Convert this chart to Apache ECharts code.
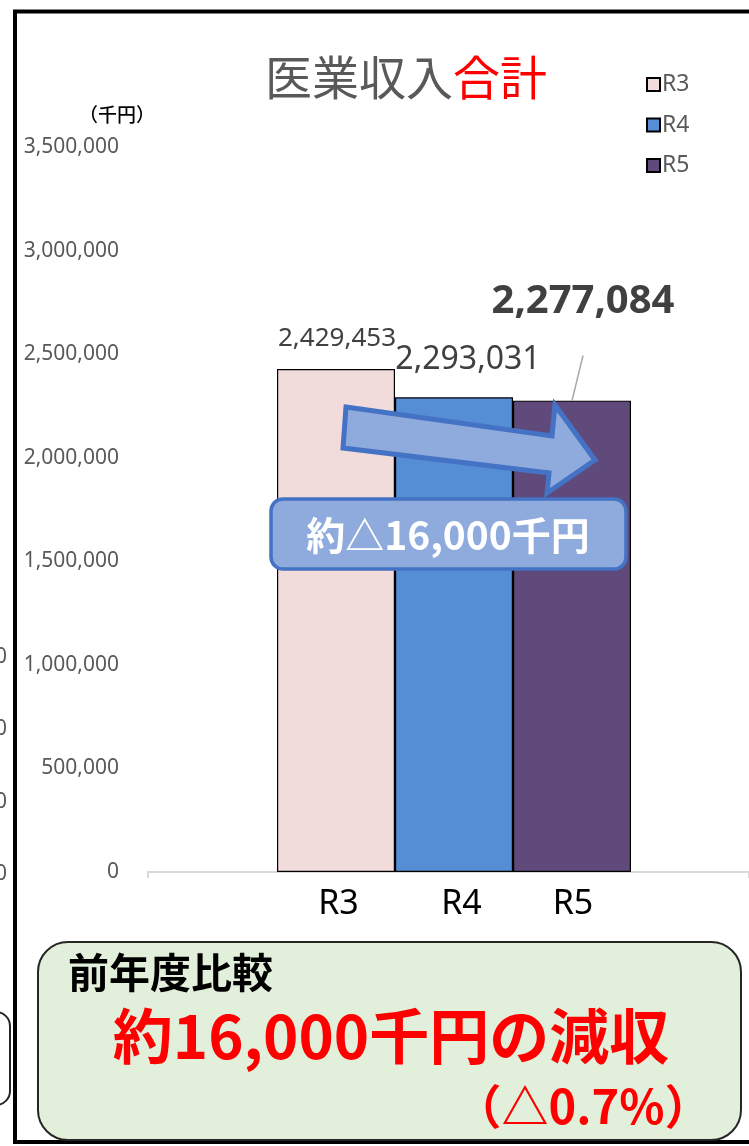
<!DOCTYPE html>
<html><head><meta charset="utf-8">
<script src="https://cdn.jsdelivr.net/npm/echarts@6/dist/echarts.min.js"></script>
<style>html,body{margin:0;padding:0;background:#fff;}#c{width:749px;height:1146px;}</style>
</head><body><div id="c"></div>
<script>
// ---- data ----
const categories = ['R3', 'R4', 'R5'];
const seriesNames = ['R3', 'R4', 'R5'];
const values = [2429453, 2293031, 2277084];
const yMin = 0, yMax = 3500000, yInterval = 500000;
const titleMain = '医業収入', titleRed = '合計';
const unitLabel = '（千円）';
const calloutText = '約△16,000千円';
const boxHead = '前年度比較';
const boxMain = '約16,000千円の減収';
const boxPct = '（△0.7%）';
const neighbourTicks = ['0', '0', '0', '0'];

// ---- styles ----
const colors = ['#F2DCDB', '#558ED5', '#604A7B'];
const labelStyles = [
  { fontSize: 26, fontWeight: 'normal', distance: 31, offset: [1, 0] },
  { fontSize: 32, fontWeight: 'normal', distance: 37, offset: [14, 0] },
  { fontSize: 40, fontWeight: 'bold', distance: 99, offset: [11, 0] }
];
const latin = 'Noto Sans';
const cjk = '"Noto Sans CJK JP"';
const fmt = v => v.toLocaleString('en-US');

const chart = echarts.init(document.getElementById('c'), null, { renderer: 'canvas' });

const gridTop = 147.5, gridHeight = 724.5;

const series = seriesNames.map((name, i) => ({
  name,
  type: 'bar',
  xAxisIndex: 0, yAxisIndex: 0,
  barGap: '-100%',
  barCategoryGap: 0,
  data: categories.map((c, j) => (j === i ? values[i] : '-')),
  itemStyle: { color: colors[i], borderColor: '#000', borderWidth: 1.2 },
  label: {
    show: true,
    position: 'top',
    distance: labelStyles[i].distance,
    offset: labelStyles[i].offset,
    verticalAlign: 'middle',
    align: 'center',
    color: '#404040',
    fontFamily: latin,
    fontSize: labelStyles[i].fontSize,
    fontWeight: labelStyles[i].fontWeight,
    formatter: p => fmt(p.value)
  },
  z: 2
}));

const option = {
  backgroundColor: '#fff',
  animation: false,
  legend: {
    orient: 'vertical',
    left: 641, top: 68,
    itemWidth: 13, itemHeight: 13,
    itemGap: 17.5,
    icon: 'rect',
    data: seriesNames,
    textStyle: { color: '#595959', fontSize: 23, fontFamily: latin, padding: [0, 0, 0, -3] }
  },
  grid: [
    { left: 277, width: 354, top: gridTop, height: gridHeight },
    { left: 148, right: -20, top: gridTop, height: gridHeight }
  ],
  xAxis: [
    {
      type: 'category', gridIndex: 0, data: categories,
      axisLine: { show: false }, axisTick: { show: false },
      axisLabel: {
        interval: 0,
        color: '#000', fontSize: 34, fontFamily: latin, margin: 15,
        formatter: v => '{' + v + '|' + v + '}',
        rich: {
          R3: { fontSize: 34, fontFamily: latin, color: '#000', padding: [0, 0, 0, 5] },
          R4: { fontSize: 34, fontFamily: latin, color: '#000', padding: [0, 0, 0, 15] },
          R5: { fontSize: 34, fontFamily: latin, color: '#000', padding: [0, 0, 0, 2] }
        }
      }
    },
    {
      type: 'category', gridIndex: 1, data: [''],
      axisLine: { show: true, lineStyle: { color: '#D9D9D9', width: 2 } },
      axisTick: { show: true, length: 6, lineStyle: { color: '#D9D9D9', width: 2 } },
      axisLabel: { show: false }
    }
  ],
  yAxis: [
    { type: 'value', gridIndex: 0, min: yMin, max: yMax, interval: yInterval, show: false, splitLine: { show: false } },
    {
      type: 'value', gridIndex: 1, min: yMin, max: yMax, interval: yInterval,
      axisLine: { show: false }, axisTick: { show: false }, splitLine: { show: false },
      axisLabel: { color: '#595959', fontSize: 21, fontFamily: latin, margin: 29, formatter: v => fmt(v) }
    }
  ],
  series
};
chart.setOption(option);

// annotation graphics
const top5 = chart.convertToPixel({ xAxisIndex: 0, yAxisIndex: 0 }, [categories[2], values[2]]);
const neighbourY = [657, 729, 802, 874];

const graphics = [
  // outer frame
  { type: 'rect', z: 50, shape: { x: 15, y: 11.5, width: 900, height: 1130.5 }, style: { fill: 'none', stroke: '#000', lineWidth: 4 } },
  // neighbouring chart fragments
  ...neighbourTicks.map((t, i) => ({ type: 'text', z: 50, style: { x: 7, y: neighbourY[i], text: t, textAlign: 'right', textVerticalAlign: 'middle', fontSize: 21, fontFamily: latin, fill: '#595959' } })),
  { type: 'rect', z: 50, shape: { x: -120, y: 1012, width: 130, height: 93, r: 14 }, style: { fill: '#fff', stroke: '#262626', lineWidth: 2 } },
  // title
  { type: 'text', z: 50, style: { x: 406, y: 77, textAlign: 'center', textVerticalAlign: 'middle',
      text: '{a|' + titleMain + '}{b|' + titleRed + '}',
      rich: { a: { fontSize: 47, fontFamily: cjk, fill: '#595959' }, b: { fontSize: 47, fontFamily: cjk, fill: '#FF0000' } } } },
  // unit
  { type: 'text', z: 50, style: { x: 117, y: 115, text: unitLabel, textAlign: 'center', textVerticalAlign: 'middle', fontSize: 19, fontWeight: 500, fontFamily: cjk, fill: '#000' } },
  // leader line for R5 label
  { type: 'line', z: 50, shape: { x1: top5[0] + 11, y1: top5[1] - 45, x2: top5[0], y2: top5[1] }, style: { stroke: '#A6A6A6', lineWidth: 1.5 } },
  // arrow
  { type: 'polygon', z: 60, shape: { points: [[346, 407], [552, 436], [555, 405], [595, 460], [547, 493], [549, 473], [343, 448]] },
    style: { fill: '#8FAADC', stroke: '#4472C4', lineWidth: 5, lineJoin: 'miter' } },
  // callout
  { type: 'rect', z: 61, shape: { x: 271, y: 499, width: 355, height: 70, r: 12 }, style: { fill: '#8FAADC', stroke: '#4472C4', lineWidth: 3.5 } },
  { type: 'text', z: 62, style: { x: 448, y: 535, text: calloutText, textAlign: 'center', textVerticalAlign: 'middle', fontSize: 39, fontWeight: 'bold', fontFamily: cjk, fill: '#fff' } },
  // summary box
  { type: 'rect', z: 70, shape: { x: 38, y: 942, width: 703, height: 198, r: 30 }, style: { fill: '#E2EFDA', stroke: '#262626', lineWidth: 2 } },
  { type: 'text', z: 71, style: { x: 68, y: 972, text: boxHead, textAlign: 'left', textVerticalAlign: 'middle', fontSize: 41, fontWeight: 'bold', fontFamily: cjk, fill: '#000' } },
  { type: 'text', z: 71, style: { x: 391, y: 1036, text: boxMain, textAlign: 'center', textVerticalAlign: 'middle', fontSize: 60, fontWeight: 'bold', fontFamily: cjk, fill: '#FF0000' } },
  { type: 'text', z: 71, style: { x: 583, y: 1106, text: boxPct, textAlign: 'center', textVerticalAlign: 'middle', fontSize: 47, fontWeight: 'bold', fontFamily: cjk, fill: '#FF0000' } }
];
chart.setOption({ graphic: graphics });
</script>
</body></html>
